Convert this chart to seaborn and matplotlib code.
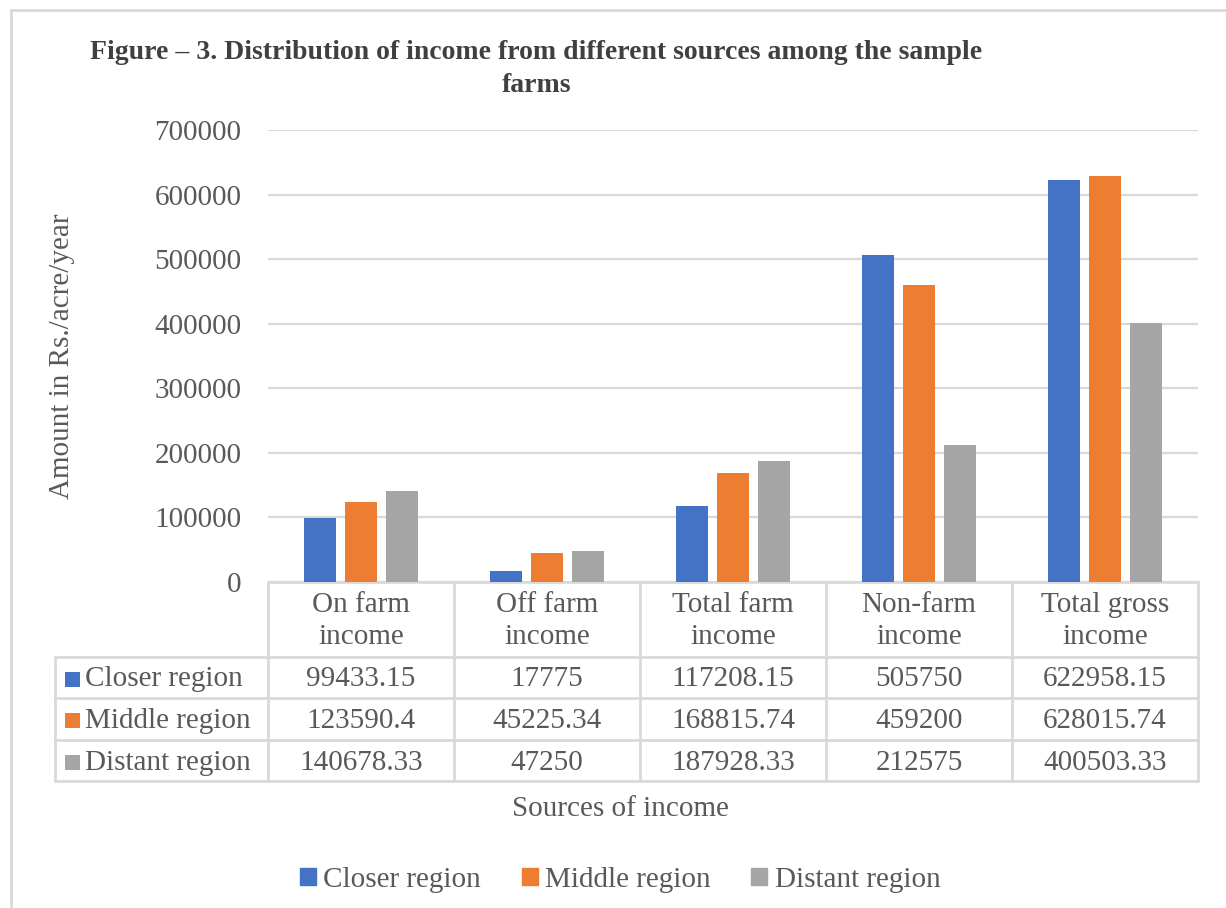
import numpy as np
import pandas as pd
import seaborn as sns
import matplotlib.pyplot as plt
from matplotlib.patches import Rectangle

# Data
sources = ["On farm income", "Off farm income", "Total farm income",
           "Non-farm income", "Total gross income"]
regions = ["Closer region", "Middle region", "Distant region"]
closer = [99433.15, 17775, 117208.15, 505750, 622958.15]
middle = [123590.4, 45225.34, 168815.74, 459200, 628015.74]
distant = [140678.33, 47250, 187928.33, 212575, 400503.33]
yticks = [0, 100000, 200000, 300000, 400000, 500000, 600000, 700000]

colors = ["#4472C4", "#ED7D31", "#A5A5A5"]
text_color = "#595959"
line_color = "#D9D9D9"

# Build a long table for seaborn
df = pd.DataFrame({"Source": sources * 3,
                   "Region": np.repeat(regions, len(sources)),
                   "Amount": closer + middle + distant})

sns.set_theme(style="white")
plt.rcParams['font.family'] = ['Liberation Serif', 'DejaVu Serif']
plt.rcParams['text.color'] = text_color

W, H = 1226, 908
fig = plt.figure(figsize=(W / 100, H / 100), dpi=100)

# plot area in pixels
left, right, top, bottom = 268, 1198, 130, 582
ax = fig.add_axes([left / W, 1 - bottom / H, (right - left) / W, (bottom - top) / H])

sns.barplot(data=df, x="Source", y="Amount", hue="Region", order=sources,
            hue_order=regions, palette=colors, width=0.66, gap=0.2,
            linewidth=0, saturation=1, ax=ax, zorder=3)
ax.get_legend().remove()

ax.set_ylim(0, 700000)
ax.set_xlim(-0.5, len(sources) - 0.5)
ax.set_yticks(yticks)
ax.set_yticklabels([str(t) for t in yticks])
ax.set_xticks([])
ax.set_xlabel("")
ax.set_ylabel("")
ax.tick_params(axis="y", length=0, pad=19, labelsize=21, labelcolor=text_color)
ax.grid(axis="y", color=line_color, linewidth=1.6, zorder=0)
for s in ax.spines.values():
    s.set_visible(False)

# overlay in pixel coords for the data table and frame
ov = fig.add_axes([0, 0, 1, 1], zorder=-1)
ov.set_xlim(0, W)
ov.set_ylim(H, 0)
ov.axis("off")

# outer chart frame (top and left only visible)
ov.plot([11, W], [10, 10], color=line_color, lw=2)
ov.plot([11, 11], [10, H], color=line_color, lw=2)


def fmt(v):
    if float(v).is_integer():
        return str(int(v))
    return f"{v:.2f}".rstrip("0")


ncol = len(sources)
col_w = (right - left) / ncol
edges = [left + i * col_w for i in range(ncol + 1)]
label_left = 55
row_edges = [657, 698, 740, 781]

# table lines
ov.plot([left, right], [bottom, bottom], color=line_color, lw=2)
for y in row_edges:
    ov.plot([label_left, right], [y, y], color=line_color, lw=2)
for x in edges:
    ov.plot([x, x], [bottom, row_edges[-1]], color=line_color, lw=2)
ov.plot([label_left, label_left], [row_edges[0], row_edges[-1]], color=line_color, lw=2)

# column headers
for i, name in enumerate(sources):
    first, last = name.rsplit(" ", 1)
    ov.text(edges[i] + col_w / 2, (bottom + row_edges[0]) / 2 + 2,
            first + "\n" + last, ha="center", va="center", fontsize=21, linespacing=1.3)

# rows
for r, (name, vals) in enumerate(zip(regions, [closer, middle, distant])):
    yc = (row_edges[r] + row_edges[r + 1]) / 2 + 2
    ov.add_patch(Rectangle((65, yc - 8), 15, 15, color=colors[r], lw=0))
    ov.text(85, yc, name, ha="left", va="center", fontsize=21)
    for i, v in enumerate(vals):
        ov.text(edges[i] + col_w / 2, yc, fmt(v), ha="center", va="center", fontsize=21)

# titles
ov.text(536, 69, "Figure – 3. Distribution of income from different sources among the sample\nfarms",
        ha="center", va="center", fontsize=20, fontweight="bold", linespacing=1.4,
        color="#404040")
ov.text(620, 809, "Sources of income", ha="center", va="center", fontsize=21)
ov.text(62, 356, "Amount in Rs./acre/year", ha="center", va="center",
        rotation=90, fontsize=21)

# legend
leg_handles = [Rectangle((0, 0), 1, 1, color=c) for c in colors]
fig.legend(leg_handles, regions, loc="center", bbox_to_anchor=(620 / W, 1 - 880 / H),
           ncol=3, frameon=False, fontsize=21, handlelength=0.55, handleheight=0.55,
           handletextpad=0.25, columnspacing=1.4)

fig.savefig("out.png", dpi=100)
